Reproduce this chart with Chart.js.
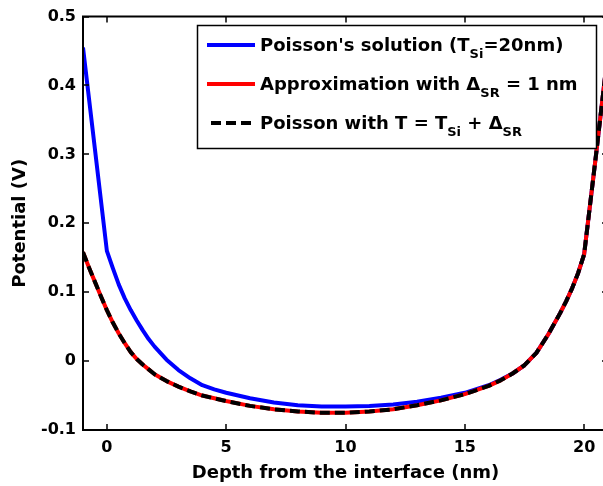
<!DOCTYPE html>
<html>
<head>
<meta charset="utf-8">
<script src="https://cdn.jsdelivr.net/npm/chart.js@4.4.1/dist/chart.umd.min.js"></script>
<style>
    html, body { margin: 0; padding: 0; background: #fff; overflow: hidden; }
    #wrap { width: 612px; height: 486px; }
</style>
</head>
<body>
<div id="wrap"><canvas id="potentialChart" width="612" height="486"></canvas></div>
<script>
// Depth (nm) and potential (V)
const xPoisson = [-1, 0, 0.25, 0.5, 0.75, 1, 1.25, 1.5, 1.75, 2, 2.5, 3, 3.5, 4, 4.5, 5, 6, 7, 8, 9, 10, 11, 12, 13, 14, 15, 16, 16.5, 17, 17.5, 18, 18.5, 19, 19.25, 19.5, 19.75, 20, 20.5, 21];
const vPoisson = [0.455, 0.16, 0.135, 0.111, 0.091, 0.074, 0.059, 0.045, 0.032, 0.021, 0.002, -0.013, -0.025, -0.035, -0.041, -0.046, -0.054, -0.060, -0.064, -0.066, -0.066, -0.065, -0.063, -0.059, -0.053, -0.046, -0.035, -0.027, -0.018, -0.006, 0.012, 0.039, 0.070, 0.087, 0.106, 0.128, 0.155, 0.30, 0.45];

const xShifted = [-1, -0.75, -0.5, -0.25, 0, 0.25, 0.5, 0.75, 1, 1.25, 1.5, 1.75, 2, 2.5, 3, 3.5, 4, 4.5, 5, 6, 7, 8, 9, 10, 11, 12, 13, 14, 15, 16, 16.5, 17, 17.5, 18, 18.5, 19, 19.25, 19.5, 19.75, 20, 20.5, 21];
const vApprox = [0.158, 0.136, 0.115, 0.094, 0.074, 0.056, 0.040, 0.026, 0.013, 0.003, -0.005, -0.012, -0.019, -0.029, -0.037, -0.044, -0.050, -0.054, -0.058, -0.065, -0.070, -0.073, -0.075, -0.075, -0.073, -0.070, -0.064, -0.057, -0.048, -0.036, -0.028, -0.018, -0.006, 0.012, 0.039, 0.070, 0.087, 0.106, 0.128, 0.155, 0.30, 0.45];
const vPoissonT = [0.158, 0.136, 0.115, 0.094, 0.074, 0.056, 0.040, 0.026, 0.013, 0.003, -0.005, -0.012, -0.019, -0.029, -0.037, -0.044, -0.050, -0.054, -0.058, -0.065, -0.070, -0.073, -0.075, -0.075, -0.073, -0.070, -0.064, -0.057, -0.048, -0.036, -0.028, -0.018, -0.006, 0.012, 0.039, 0.070, 0.087, 0.106, 0.128, 0.155, 0.30, 0.45];

const xTicks = [0, 5, 10, 15, 20];
const yTicks = [-0.1, 0, 0.1, 0.2, 0.3, 0.4, 0.5];
const yTickLabels = ['-0.1', '0', '0.1', '0.2', '0.3', '0.4', '0.5'];

const seriesLabels = ["Poisson's solution (TSi=20nm)", 'Approximation with \u0394SR = 1 nm', 'Poisson with T = TSi + \u0394SR'];
// legend rows as [text, isSubscript] pieces
const legendRows = [
    [["Poisson's solution (T", 0], ['Si', 1], ['=20nm)', 0]],
    [['Approximation with \u0394', 0], ['SR', 1], [' = 1 nm', 0]],
    [['Poisson with T = T', 0], ['Si', 1], [' + \u0394', 0], ['SR', 1]]
];

const FONT = '"DejaVu Sans", "Liberation Sans", Arial, sans-serif';
const toPoints = (xs, ys) => xs.map((x, i) => ({ x: x, y: ys[i] }));

// frame, inward tick marks and the boxed legend
const framePlugin = {
    id: 'frame',
    afterDraw(chart) {
        const { ctx, chartArea: a, scales } = chart;
        ctx.save();
        ctx.strokeStyle = '#000';
        ctx.lineWidth = 2;
        ctx.beginPath();
        ctx.moveTo(a.left, a.top); ctx.lineTo(a.right, a.top);
        ctx.moveTo(a.left, a.top - 1); ctx.lineTo(a.left, a.bottom + 1);
        ctx.moveTo(a.left, a.bottom); ctx.lineTo(a.right, a.bottom);
        ctx.moveTo(a.right, a.top); ctx.lineTo(a.right, a.bottom);
        ctx.stroke();

        ctx.lineWidth = 1.5;
        ctx.beginPath();
        xTicks.forEach(v => {
            const px = Math.round(scales.x.getPixelForValue(v));
            ctx.moveTo(px, a.bottom); ctx.lineTo(px, a.bottom - 6);
            ctx.moveTo(px, a.top); ctx.lineTo(px, a.top + 6);
        });
        yTicks.forEach(v => {
            const py = Math.round(scales.y.getPixelForValue(v));
            ctx.moveTo(a.left, py); ctx.lineTo(a.left + 6, py);
            ctx.moveTo(a.right, py); ctx.lineTo(a.right - 6, py);
        });
        ctx.stroke();

        // legend box
        const box = { x: 197, y: 25, w: 399, h: 123 };
        ctx.fillStyle = '#fff';
        ctx.fillRect(box.x, box.y, box.w, box.h);
        ctx.lineWidth = 1.5;
        ctx.strokeRect(box.x + 0.5, box.y + 0.5, box.w, box.h);

        const rowY = [45, 84, 123];
        const ds = chart.data.datasets;
        legendRows.forEach((row, i) => {
            const d = ds[i];
            const y = rowY[i];
            ctx.save();
            ctx.strokeStyle = d.borderColor;
            ctx.lineWidth = 4;
            ctx.setLineDash(d.borderDash || []);
            ctx.beginPath();
            ctx.moveTo(i === 2 ? 211 : 207, y); ctx.lineTo(255, y);
            ctx.stroke();
            ctx.restore();

            let tx = 260;
            ctx.fillStyle = '#000';
            ctx.textAlign = 'left';
            ctx.textBaseline = 'alphabetic';
            row.forEach(([t, sub]) => {
                ctx.font = sub ? 'bold 13px ' + FONT : 'bold 18px ' + FONT;
                ctx.fillText(t, tx, sub ? y + 13 : y + 6);
                tx += ctx.measureText(t).width;
            });
        });
        ctx.restore();
    }
};

new Chart(document.getElementById('potentialChart'), {
    type: 'line',
    data: {
        datasets: [
            {
                label: seriesLabels[0],
                data: toPoints(xPoisson, vPoisson),
                borderColor: '#0000ff',
                borderWidth: 4,
                order: 3
            },
            {
                label: seriesLabels[1],
                data: toPoints(xShifted, vApprox),
                borderColor: '#ff0000',
                borderWidth: 4,
                order: 2
            },
            {
                label: seriesLabels[2],
                data: toPoints(xShifted, vPoissonT),
                borderColor: '#000000',
                borderWidth: 4,
                borderDash: [10, 5],
                order: 1
            }
        ]
    },
    options: {
        responsive: false,
        animation: false,
        events: [],
        elements: {
            point: { radius: 0 },
            line: { tension: 0, fill: false, borderCapStyle: 'butt', borderJoinStyle: 'round' }
        },
        layout: { padding: { top: 16, right: 4, left: 0, bottom: 0 } },
        plugins: { legend: { display: false }, tooltip: { enabled: false } },
        scales: {
            x: {
                type: 'linear',
                min: -1,
                max: 21,
                afterBuildTicks: (s) => { s.ticks = xTicks.map(v => ({ value: v })); },
                afterFit: (s) => { s.height = 56; },
                grid: { display: false, drawTicks: false },
                border: { display: false },
                ticks: { color: '#000', padding: 8, maxRotation: 0, autoSkip: false, font: { family: FONT, size: 16, weight: 'bold' } },
                title: {
                    display: true,
                    text: 'Depth from the interface (nm)',
                    color: '#000',
                    font: { family: FONT, size: 18, weight: 'bold' },
                    padding: { top: 0, bottom: 2 }
                }
            },
            y: {
                type: 'linear',
                min: -0.1,
                max: 0.5,
                afterBuildTicks: (s) => { s.ticks = yTicks.map(v => ({ value: v })); },
                afterFit: (s) => { s.width = 83; },
                grid: { display: false, drawTicks: false },
                border: { display: false },
                ticks: {
                    color: '#000', padding: 7, autoSkip: false,
                    font: { family: FONT, size: 16, weight: 'bold' },
                    callback: (v, i) => yTickLabels[i]
                },
                title: {
                    display: true,
                    text: 'Potential (V)',
                    color: '#000',
                    font: { family: FONT, size: 18, weight: 'bold' },
                    padding: { top: 10, bottom: 0 }
                }
            }
        }
    },
    plugins: [framePlugin]
});
</script>
</body>
</html>
